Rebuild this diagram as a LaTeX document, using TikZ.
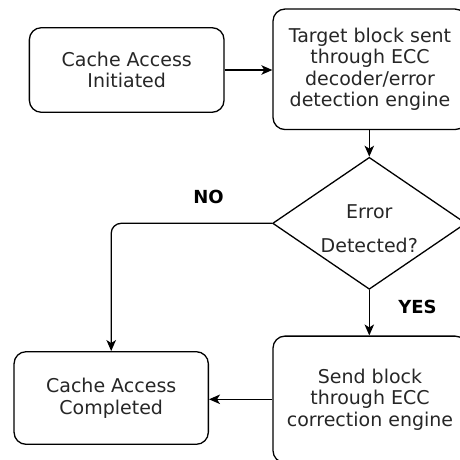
\documentclass[tikz,border=0pt]{standalone}
\usepackage{fontspec}
\setmainfont{DejaVu Sans}
\usetikzlibrary{shapes.geometric,arrows.meta}

\definecolor{inkgray}{HTML}{262626}

\tikzset{
  stepbox/.style={draw, line width=1.3pt, rounded corners=12pt, align=center,
    inner sep=0pt, text=inkgray, font=\fontsize{19}{21.6}\selectfont},
  decision/.style={draw, line width=1.3pt, diamond, inner sep=0pt, aspect=1.46},
  flow/.style={draw, line width=1.3pt, -{Stealth[length=11pt,width=9.5pt,inset=3pt]}},
  answer/.style={font=\fontsize{18}{20}\selectfont\bfseries, inner sep=0pt}
}

\begin{document}
\begin{tikzpicture}[x=1pt, y=-1pt]
  \useasboundingbox (0,0) rectangle (459,460);

  % process boxes
  \node[stepbox, minimum width=194.7pt, minimum height=84.6pt] (init) at (126.7,70)
    {Cache Access\\Initiated};
  \node[stepbox, minimum width=194pt, minimum height=120.5pt] (detect) at (370,69.3)
    {Target block sent\\through ECC\\decoder/error\\detection engine};
  \node[decision, minimum width=193.4pt, minimum height=132pt] (dec) at (369.3,223.3) {};
  \node[align=center, inner sep=0pt, text=inkgray, font=\fontsize{19}{33.7}\selectfont] (dectext) at (369.3,229)
    {Error\\Detected?};
  \node[stepbox, minimum width=194pt, minimum height=126.6pt] (fix) at (370,399.4)
    {Send block\\through ECC\\correction engine};
  \node[stepbox, minimum width=194.3pt, minimum height=92.6pt] (done) at (111.2,398)
    {Cache Access\\Completed};

  % branch labels
  \node[answer] (no) at (208.5,196.5) {NO};
  \node[answer] (yes) at (417.5,306.5) {YES};

  % connectors
  \draw[flow] (init.east) -- (init.east -| detect.west);
  \draw[flow] (detect.south -| dec.north) -- (dec.north);
  \draw[flow, rounded corners=10pt] (dec.west) -| (done.north);
  \draw[flow] (dec.south) -- (dec.south |- fix.north);
  \draw[flow] (fix.west |- 0,399.3) -- (done.east |- 0,399.3);
\end{tikzpicture}
\end{document}
